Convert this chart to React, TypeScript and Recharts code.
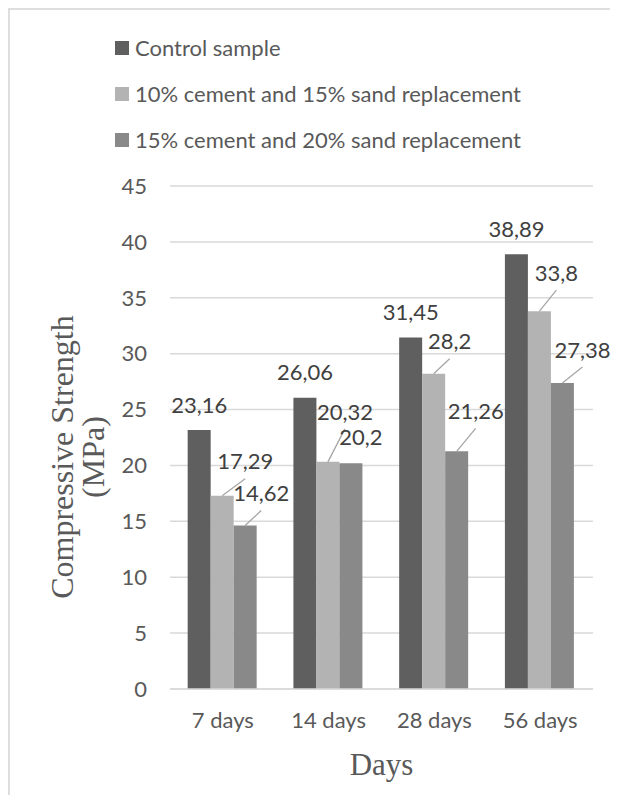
import React from "react";
import {
  BarChart,
  Bar,
  XAxis,
  YAxis,
  CartesianGrid,
  LabelList,
  Label,
} from "recharts";

const days = ["7 days", "14 days", "28 days", "56 days"];
const controlSample = [23.16, 26.06, 31.45, 38.89];
const mix10c15s = [17.29, 20.32, 28.2, 33.8];
const mix15c20s = [14.62, 20.2, 21.26, 27.38];
const strengthTicks = [0, 5, 10, 15, 20, 25, 30, 35, 40, 45];

const seriesNames = [
  "Control sample",
  "10% cement and 15% sand replacement",
  "15% cement and 20% sand replacement",
];
const seriesKeys = ["control", "mixA", "mixB"];
const seriesColors = ["#5f5f5f", "#b3b3b3", "#898989"];

// label placement relative to the top centre of each bar: [dx, dy, leader line]
const labelOffsets: [number, number, boolean][][] = [
  [[0, -25, false], [0, -25, false], [0, -25, false], [0, -25, false]],
  [[23, -34, true], [17, -50, true], [16, -32, true], [17, -38, true]],
  [[16, -32, true], [10, -26, false], [19, -40, true], [20, -33, true]],
];

const rows = days.map((day, i) => ({
  day,
  control: controlSample[i],
  mixA: mix10c15s[i],
  mixB: mix15c20s[i],
}));

const sans = "Lato, 'Open Sans', sans-serif";
const serif = "'Liberation Serif', 'DejaVu Serif', serif";
const textSize = 22;

const makeLabel = (series: number) => (props: any) => {
  const { x, y, width, value, index } = props;
  const [dx, dy, leader] = labelOffsets[series][index];
  const bx = x + width / 2;
  const lx = bx + dx;
  const ly = y + dy;
  return (
    <g>
      {leader && (
        <line x1={bx} y1={y} x2={lx} y2={ly + 17} stroke="#a6a6a6" strokeWidth={1.3} />
      )}
      <text
        x={lx}
        y={ly}
        dy="0.35em"
        textAnchor="middle"
        fontFamily={sans}
        fontSize={textSize}
        fill="#404040"
      >
        {String(value).replace(".", ",")}
      </text>
    </g>
  );
};

function Legend() {
  return (
    <div style={{ position: "absolute", left: 105, top: 26, fontFamily: sans, fontSize: textSize, color: "#595959" }}>
      {seriesNames.map((name, i) => (
        <div key={name} style={{ display: "flex", alignItems: "center", height: 24, marginBottom: 22 }}>
          <span style={{ width: 14, height: 14, background: seriesColors[i], marginRight: 6, display: "inline-block" }} />
          <span style={{ lineHeight: "24px" }}>{name}</span>
        </div>
      ))}
    </div>
  );
}

export default function App() {
  return (
    <div
      style={{
        position: "relative",
        width: 610,
        height: 787,
        boxSizing: "border-box",
        borderLeft: "2px solid #dedede",
        borderTop: "2px solid #dedede",
        overflow: "hidden",
        background: "#fff",
      }}
    >
      <style>{"html, body { overflow: hidden; }"}</style>
      <Legend />
      <BarChart
        width={608}
        height={785}
        data={rows}
        margin={{ top: 176, right: 25, bottom: 0, left: 0 }}
        barGap={0}
        barCategoryGap="16.7%"
      >
        <CartesianGrid vertical={false} stroke="#d9d9d9" strokeWidth={1.5} />
        <XAxis
          dataKey="day"
          height={106}
          tickLine={false}
          tickSize={0}
          tickMargin={23}
          axisLine={{ stroke: "#d9d9d9", strokeWidth: 1.5 }}
          tick={{ fill: "#595959", fontSize: textSize, fontFamily: sans }}
        >
          <Label
            content={(p: any) => (
              <text
                x={p.viewBox.x + p.viewBox.width / 2}
                y={765}
                textAnchor="middle"
                fontFamily={serif}
                fontSize={31}
                fill="#595959"
              >
                Days
              </text>
            )}
          />
        </XAxis>
        <YAxis
          width={160}
          domain={[0, 45]}
          ticks={strengthTicks}
          axisLine={false}
          tickLine={false}
          tickSize={0}
          tickMargin={23}
          tick={{ fill: "#595959", fontSize: textSize, fontFamily: sans }}
        >
          <Label
            content={() => {
              const cy = 447;
              return (
                <g fontFamily={serif} fontSize={32} fill="#595959" textAnchor="middle">
                  <text x={63} y={cy} transform={`rotate(-90 63 ${cy})`}>
                    Compressive Strength
                  </text>
                  <text x={94} y={cy} transform={`rotate(-90 94 ${cy})`}>
                    (MPa)
                  </text>
                </g>
              );
            }}
          />
        </YAxis>
        {seriesKeys.map((key, i) => (
          <Bar key={key} dataKey={key} name={seriesNames[i]} fill={seriesColors[i]} isAnimationActive={false}>
            <LabelList dataKey={key} content={makeLabel(i)} />
          </Bar>
        ))}
      </BarChart>
    </div>
  );
}
